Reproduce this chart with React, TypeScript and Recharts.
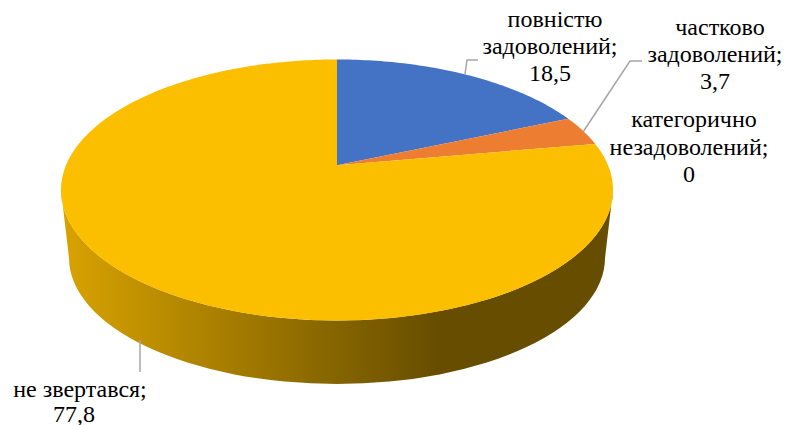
import { PieChart, Pie } from 'recharts'

const categories = ['повністю задоволений', 'частково задоволений', 'категорично незадоволений', 'не звертався']
const values = [18.5, 3.7, 0, 77.8]
const COLORS = ['#4472C4', '#ED7D31', '#A5A5A5', '#FBBF00']

const data = categories.map((name, i) => ({ name, value: values[i], fill: COLORS[i] }))

// label layout
const LABEL_LINES = [['повністю', 'задоволений;'], ['частково', 'задоволений;'], ['категорично', 'незадоволений;'], ['не звертався;']]
const LABEL_X = [550, 715, 689, 80]
const LABEL_Y = [27, 35, 127, 396.5]
const LABEL_STEP = [27, 27, 27.5, 25]
const LINE_DX = [[5, 0, 0], [5, 0, 0], [5, 0, 0], [0, -6]]
const LEADERS = ['465,74 467,60 478,60', '583,132 630,61 642,61', '', '140,340 140,372']

const CX = 337
const CY = 190
const RX = 276
const RY = 130.5
const TILT = 0.19 // centre of the disc sits above the middle of the ellipse
const DEPTH_RX = 268
const DEPTH_RY = 126
const DEPTH_CY = 258

const rad = (deg: number) => (deg * Math.PI) / 180

// circle angle -> point on the tilted disc
function project(deg: number) {
  const u = Math.cos(rad(deg))
  const v = Math.sin(rad(deg))
  const w = 1 + TILT * v
  return {
    x: (RX * Math.sqrt(1 - TILT * TILT) * u) / w,
    y: (RY * v + RY * TILT) / w
  }
}

function TopFace(props: any) {
  const { cx, cy, startAngle, endAngle, fill } = props
  if (Math.abs(startAngle - endAngle) < 0.01) return null
  const pts: string[] = [`M${cx},${cy - RY * TILT}`]
  const n = Math.ceil(Math.abs(startAngle - endAngle))
  for (let i = 0; i <= n; i++) {
    const p = project(startAngle + ((endAngle - startAngle) * i) / n)
    pts.push(`L${cx + p.x},${cy - p.y}`)
  }
  return <path d={pts.join(' ') + ' Z'} fill={fill} stroke="none" />
}

function SideWall(props: any) {
  const { cx, cy, startAngle, endAngle } = props
  // only the slice holding the front of the disc shows a wall
  if (!(startAngle >= -90 && endAngle <= -90)) return null
  const d = [
    `M${cx - RX},${cy}`,
    `A${RX},${RY} 0 0 0 ${cx + RX},${cy}`,
    `L${cx + DEPTH_RX},${DEPTH_CY}`,
    `A${DEPTH_RX},${DEPTH_RY} 0 0 1 ${cx - DEPTH_RX},${DEPTH_CY}`,
    'Z'
  ].join(' ')
  return <path d={d} fill="url(#wall)" stroke="none" />
}

function SliceLabel(props: any) {
  const { index, value } = props
  const lines = [...LABEL_LINES[index], String(value).replace('.', ',')]
  return (
    <g>
      {LEADERS[index] && <polyline points={LEADERS[index]} fill="none" stroke="#A6A6A6" strokeWidth={1.5} />}
      <text
        x={LABEL_X[index]}
        y={LABEL_Y[index]}
        textAnchor="middle"
        fontFamily="Liberation Serif"
        fontSize={24}
        fill="#000"
      >
        {lines.map((l, i) => (
          <tspan key={i} x={LABEL_X[index] + LINE_DX[index][i]} y={LABEL_Y[index] + i * LABEL_STEP[index]}>
            {l}
          </tspan>
        ))}
      </text>
    </g>
  )
}

export default function App() {
  return (
    <div style={{ position: 'absolute', left: 0, top: 0 }}>
      <PieChart width={785} height={425} margin={{ top: 0, right: 0, bottom: 0, left: 0 }}>
        <defs>
          <linearGradient id="wall" gradientUnits="userSpaceOnUse" x1={60} y1={0} x2={440} y2={0}>
            <stop offset="0" stopColor="#D9A300" />
            <stop offset="1" stopColor="#664D00" />
          </linearGradient>
        </defs>
        <Pie
          data={data}
          dataKey="value"
          cx={CX}
          cy={CY}
          outerRadius={RX}
          startAngle={90}
          endAngle={-270}
          stroke="none"
          isAnimationActive={false}
          shape={SideWall}
          legendType="none"
        />
        <Pie
          data={data}
          dataKey="value"
          cx={CX}
          cy={CY}
          outerRadius={RX}
          startAngle={90}
          endAngle={-270}
          stroke="none"
          isAnimationActive={false}
          shape={TopFace}
          label={SliceLabel}
          labelLine={false}
        />
      </PieChart>
    </div>
  )
}
